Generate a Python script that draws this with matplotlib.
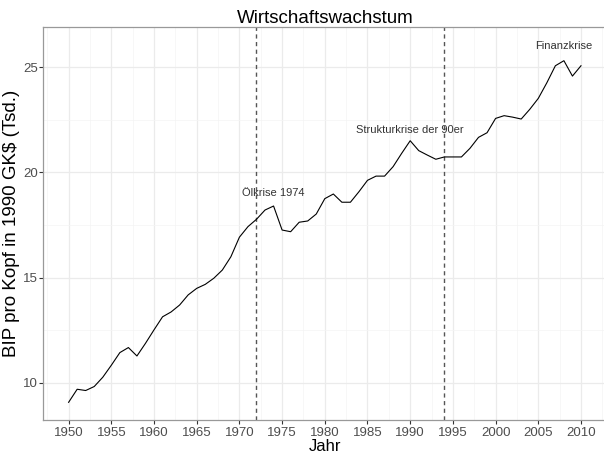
import matplotlib
matplotlib.use("Agg")
import matplotlib.pyplot as plt
from matplotlib.ticker import MultipleLocator
import numpy as np

plt.rcParams['font.family'] = ['Liberation Sans', 'DejaVu Sans']

years = list(range(1950, 2011))
gdp = [9.08, 9.70, 9.64, 9.83, 10.27, 10.84, 11.44, 11.68, 11.28, 11.88,
       12.52, 13.14, 13.37, 13.70, 14.18, 14.49, 14.68, 14.97, 15.36, 15.99,
       16.92, 17.42, 17.77, 18.21, 18.40, 17.26, 17.18, 17.63, 17.69, 18.02,
       18.75, 18.97, 18.58, 18.58, 19.08, 19.62, 19.82, 19.82, 20.27, 20.90,
       21.50, 21.03, 20.82, 20.62, 20.73, 20.73, 20.73, 21.14, 21.66, 21.88,
       22.56, 22.69, 22.62, 22.53, 22.99, 23.51, 24.25, 25.06, 25.30, 24.57,
       25.06]

crisis_lines = [1972, 1994]
ann_x = [1974, 1990, 2008]
ann_y = [19.0, 22.0, 26.0]
ann_text = ["Ölkrise 1974", "Strukturkrise der 90er", "Finanzkrise"]

fig = plt.figure(figsize=(6.04, 4.53), dpi=100)
ax = fig.add_axes([43/604, 33/453, (606.6-43)/604, (420-27)/453])

ax.plot(years, gdp, color='black', lw=0.8, zorder=3)
for xv in crisis_lines:
    ax.axvline(xv, color='#555555', ls=(0, (3, 2.5)), lw=1.0, zorder=2)
for x, y, t in zip(ann_x, ann_y, ann_text):
    ax.text(x, y, t, ha='center', va='center', fontsize=8, color='#333333', zorder=4)

ax.set_xlim(1947, 2013)
ax.set_ylim(8.24, 26.9)
ax.xaxis.set_major_locator(MultipleLocator(5))
ax.xaxis.set_minor_locator(MultipleLocator(2.5))
ax.yaxis.set_major_locator(MultipleLocator(5))
ax.yaxis.set_minor_locator(MultipleLocator(2.5))
ax.grid(which='major', color='#EBEBEB', lw=0.9, zorder=0)
ax.grid(which='minor', color='#F4F4F4', lw=0.5, zorder=0)
ax.set_axisbelow(True)
for s in ax.spines.values():
    s.set_color('#999999')
    s.set_linewidth(0.9)
ax.tick_params(which='major', length=3, width=0.8, color='#333333',
               labelsize=9.5, labelcolor='#4D4D4D', pad=2)
ax.tick_params(axis='y', which='major', pad=0.5)
ax.tick_params(which='minor', length=0)

ax.set_title("Wirtschaftswachstum", fontsize=13.5, pad=3)
ax.set_xlabel("Jahr", fontsize=12, labelpad=0)
ax.set_ylabel("BIP pro Kopf in 1990 GK$ (Tsd.)", fontsize=13.5)
ax.yaxis.set_label_coords(-0.040, 0.5)

fig.savefig("out.png", dpi=100)
